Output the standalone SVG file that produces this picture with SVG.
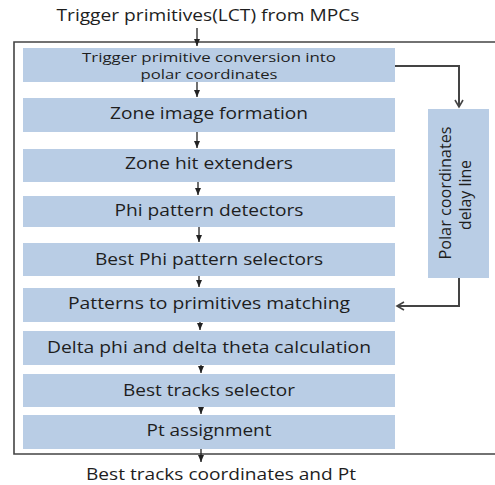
<svg xmlns="http://www.w3.org/2000/svg" width="495" height="485" viewBox="0 0 495 485">
<defs>
<style>
.box{fill:#b9cde5;}
.t{font-family:"Open Sans","Noto Sans","DejaVu Sans",sans-serif;fill:#1e1e1e;text-anchor:middle;}
.m{font-size:16px;}
.s{font-size:12px;}
.c{fill:none;stroke:#222;stroke-width:1.3;}
.d{fill:none;stroke:#444;stroke-width:2;}
.frame{fill:none;stroke:#444;stroke-width:1.6;}
</style>
<marker id="ah" markerWidth="8" markerHeight="8" refX="7" refY="4" orient="auto" markerUnits="userSpaceOnUse">
<path d="M0,1 L7,4 L0,7 Z" fill="#222"/>
</marker>
<marker id="av" markerWidth="10" markerHeight="10" refX="8" refY="5" orient="auto" markerUnits="userSpaceOnUse">
<path d="M1,1 L8,5 L1,9" fill="none" stroke="#444" stroke-width="1.6"/>
</marker>
</defs>
<rect width="495" height="485" fill="#fff"/>
<path class="frame" d="M496,42 H14 V454 H496"/>
<text class="t m" x="208" y="21" textLength="303" lengthAdjust="spacingAndGlyphs">Trigger primitives(LCT) from MPCs</text>
<g id="n1"><rect class="box" x="23" y="48" width="372" height="34"/>
<text class="t s" x="209" y="62" textLength="254" lengthAdjust="spacingAndGlyphs">Trigger primitive conversion into</text>
<text class="t s" x="209" y="78.5" textLength="137" lengthAdjust="spacingAndGlyphs">polar coordinates</text></g>
<g id="n2"><rect class="box" x="23" y="98" width="372" height="34"/>
<text class="t m" x="209" y="119" textLength="198" lengthAdjust="spacingAndGlyphs">Zone image formation</text></g>
<g id="n3"><rect class="box" x="23" y="149" width="372" height="33"/>
<text class="t m" x="209" y="169" textLength="168" lengthAdjust="spacingAndGlyphs">Zone hit extenders</text></g>
<g id="n4"><rect class="box" x="23" y="196" width="372" height="31"/>
<text class="t m" x="209" y="216" textLength="189" lengthAdjust="spacingAndGlyphs">Phi pattern detectors</text></g>
<g id="n5"><rect class="box" x="23" y="243" width="372" height="33"/>
<text class="t m" x="209" y="265" textLength="228" lengthAdjust="spacingAndGlyphs">Best Phi pattern selectors</text></g>
<g id="n6"><rect class="box" x="23" y="288" width="372" height="34"/>
<text class="t m" x="209" y="309" textLength="282" lengthAdjust="spacingAndGlyphs">Patterns to primitives matching</text></g>
<g id="n7"><rect class="box" x="23" y="331" width="372" height="34"/>
<text class="t m" x="209" y="353" textLength="324" lengthAdjust="spacingAndGlyphs">Delta phi and delta theta calculation</text></g>
<g id="n8"><rect class="box" x="23" y="374" width="372" height="33"/>
<text class="t m" x="209" y="396" textLength="172" lengthAdjust="spacingAndGlyphs">Best tracks selector</text></g>
<g id="n9"><rect class="box" x="23" y="415" width="372" height="34"/>
<text class="t m" x="209" y="436" textLength="125" lengthAdjust="spacingAndGlyphs">Pt assignment</text></g>
<g id="n10"><rect class="box" x="428" y="109" width="61" height="169"/>
<text class="t m" transform="translate(446,193) rotate(-90)" y="5" textLength="133" lengthAdjust="spacingAndGlyphs">Polar coordinates</text>
<text class="t m" transform="translate(466,195) rotate(-90)" y="5" textLength="70" lengthAdjust="spacingAndGlyphs">delay line</text></g>
<text class="t m" x="221" y="480" textLength="270" lengthAdjust="spacingAndGlyphs">Best tracks coordinates and Pt</text>
<g id="connectors">
<path class="c" d="M197,28 V46" marker-end="url(#ah)"/>
<path class="c" d="M197,82 V97" marker-end="url(#ah)"/>
<path class="c" d="M197,132 V148" marker-end="url(#ah)"/>
<path class="c" d="M198,182 V195" marker-end="url(#ah)"/>
<path class="c" d="M199,227 V242" marker-end="url(#ah)"/>
<path class="c" d="M199,276 V287" marker-end="url(#ah)"/>
<path class="c" d="M200,322 V330" marker-end="url(#ah)"/>
<path class="c" d="M201,365 V373" marker-end="url(#ah)"/>
<path class="c" d="M201,407 V414" marker-end="url(#ah)"/>
<path class="c" d="M201,449 V462" marker-end="url(#ah)"/>
<path class="d" d="M395,66 H459 V107" marker-end="url(#av)"/>
<path class="d" d="M459,278 V306 H397" marker-end="url(#av)"/>
</g>
</svg>
